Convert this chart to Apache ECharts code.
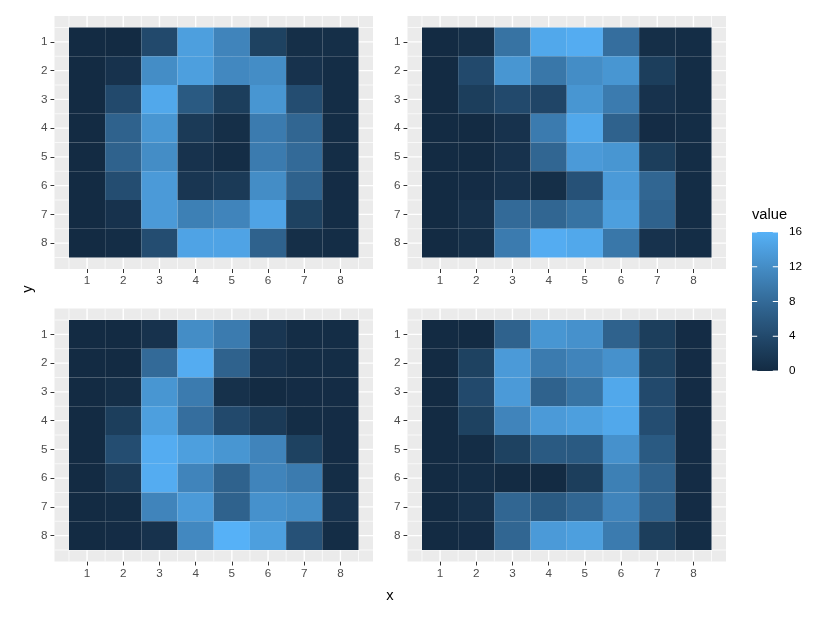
<!DOCTYPE html>
<html>
<head>
<meta charset="utf-8">
<script src="https://cdn.jsdelivr.net/npm/echarts@6/dist/echarts.min.js"></script>
<style>
html, body { margin: 0; padding: 0; background: #fff; }
#chart { width: 830px; height: 622px; }
</style>
</head>
<body>
<div id="chart"></div>
<script>
// tick labels
const xTicks = [1, 2, 3, 4, 5, 6, 7, 8];
const yTicks = [1, 2, 3, 4, 5, 6, 7, 8];
const legendTicks = [0, 4, 8, 12, 16];

// pixel values, one row per y (1 = top)
const digit0 = [
  [0, 0,   4,    14,   11,   3,    0.5, 0.5],
  [0, 1,   12,   14,   11.5, 12,   1,   0.3],
  [0, 4,   15,   6,    2.5,  13,   4.5, 0.3],
  [0, 7,   13,   2,    0.5,  10,   7.5, 0.3],
  [0, 7,   12,   1,    0.3,  10,   8,   0.3],
  [0, 4.5, 13.5, 1.5,  2,    12,   7,   0.2],
  [0, 1,   13.5, 10.5, 11,   14.5, 3,   0.3],
  [0, 0.3, 4.5,  14.5, 14.5, 7,    0.5, 0.3]
];
const digit3 = [
  [0, 0.5, 9,    15,   15.5, 8.5,  0.5, 0.3],
  [0, 4,   13,   9.5,  12,   13,   2.5, 0.3],
  [0, 2.5, 4,    3.5,  13,   10,   1,   0.3],
  [0, 0,   1,    10,   15,   7,    0.2, 0.3],
  [0, 0,   1,    7.5,  13.5, 13,   2.5, 0.3],
  [0, 0.2, 1,    0.5,  5,    13.5, 7.5, 0.3],
  [0, 0.7, 8,    7.5,  9,    14,   7,   0.3],
  [0, 0.5, 10,   15.5, 15,   9.5,  1,   0.3]
];
const digit6 = [
  [0, 0,   1,    12,   10,   1.5,  0.3, 0.3],
  [0, 0,   8,    15.5, 7,    1,    0.3, 0.3],
  [0, 0.5, 13,   10,   0.8,  0,    0.2, 0.2],
  [0, 2.5, 14,   8.5,  4,    2,    0.3, 0.2],
  [0, 4.5, 15.5, 14,   13,   11,   3,   0.2],
  [0, 2,   15.5, 11,   7,    11,   10,  0.3],
  [0, 0.3, 11,   13.5, 7,    12.5, 12,  1],
  [0, 0.2, 1,    11.5, 16,   14,   5,   0.3]
];
const digit9 = [
  [0, 0,   7,    13,   12.5, 7,    2.5, 0.2],
  [0, 3,   13.5, 10,   11,   12.5, 3,   0.2],
  [0, 4,   13.5, 7,    9,    15,   4,   0.2],
  [0, 3,   11,   13.5, 14,   15,   4.5, 0.2],
  [0, 0.3, 3,    6,    6,    12.5, 6,   0.2],
  [0, 0.3, 0,    0,    2.5,  10.5, 7,   0.2],
  [0, 0.7, 7.5,  6,    7.5,  11,   7,   0.2],
  [0, 0.2, 7.5,  13.5, 14,   10,   2.5, 0.3]
];
const panels = [digit0, digit3, digit6, digit9];

// colour scale, interpolated in CIELAB like ggplot
const lowColor = '#132B43';
const highColor = '#56B1F7';
const scaleMin = 0, scaleMax = 16;

function hexToRgb(h) {
  return [1, 3, 5].map(i => parseInt(h.substr(i, 2), 16));
}
function toLab(rgb) {
  const lin = rgb.map(c => {
    c = c / 255;
    return c <= 0.04045 ? c / 12.92 : Math.pow((c + 0.055) / 1.055, 2.4);
  });
  const X = (0.4124564 * lin[0] + 0.3575761 * lin[1] + 0.1804375 * lin[2]) / 0.95047;
  const Y = 0.2126729 * lin[0] + 0.7151522 * lin[1] + 0.0721750 * lin[2];
  const Z = (0.0193339 * lin[0] + 0.1191920 * lin[1] + 0.9503041 * lin[2]) / 1.08883;
  const f = t => t > 0.008856 ? Math.cbrt(t) : 7.787 * t + 16 / 116;
  const fx = f(X), fy = f(Y), fz = f(Z);
  return [116 * fy - 16, 500 * (fx - fy), 200 * (fy - fz)];
}
function fromLab(lab) {
  const fy = (lab[0] + 16) / 116, fx = lab[1] / 500 + fy, fz = fy - lab[2] / 200;
  const finv = t => t * t * t > 0.008856 ? t * t * t : (t - 16 / 116) / 7.787;
  const X = finv(fx) * 0.95047, Y = finv(fy), Z = finv(fz) * 1.08883;
  const lin = [
    3.2404542 * X - 1.5371385 * Y - 0.4985314 * Z,
    -0.9692660 * X + 1.8760108 * Y + 0.0415560 * Z,
    0.0556434 * X - 0.2040259 * Y + 1.0572252 * Z
  ];
  const c = lin.map(v => {
    v = v <= 0.0031308 ? 12.92 * v : 1.055 * Math.pow(v, 1 / 2.4) - 0.055;
    return Math.round(Math.max(0, Math.min(1, v)) * 255);
  });
  return 'rgb(' + c.join(',') + ')';
}
const labLow = toLab(hexToRgb(lowColor));
const labHigh = toLab(hexToRgb(highColor));
function colorFor(v) {
  const t = Math.max(0, Math.min(1, (v - scaleMin) / (scaleMax - scaleMin)));
  return fromLab(labLow.map((l, i) => l + (labHigh[i] - l) * t));
}

const fontFamily = '"Liberation Sans", Arial, Helvetica, sans-serif';

// panel boxes (grey area), axis range 0.1..8.9 = tiles + 0.4 expansion
const lefts = [54.5, 407.5, 54.5, 407.5];
const tops = [16, 16, 308.5, 308.5];
const panelW = 318.5, panelH = 253;
const lo = 0.1, hi = 8.9;

// gridline positions: majors on ticks, minors half way
const gridPos = [];
xTicks.forEach(t => {
  gridPos.push(t - 0.5);
  gridPos.push(t);
});
gridPos.push(xTicks[xTicks.length - 1] + 0.5);

const grids = [], xAxes = [], yAxes = [], series = [];

panels.forEach((digit, i) => {
  grids.push({
    left: lefts[i], top: tops[i], width: panelW, height: panelH,
    show: true, backgroundColor: '#EBEBEB', borderWidth: 0
  });
  xAxes.push({
    gridIndex: i, type: 'value', min: lo, max: hi,
    axisLine: { show: false, onZero: false },
    splitLine: { show: false },
    axisTick: { show: true, customValues: xTicks, length: 4, lineStyle: { color: '#333333', width: 1 } },
    axisLabel: { customValues: xTicks, color: '#4D4D4D', fontSize: 11.7, margin: 6, fontFamily: fontFamily }
  });
  yAxes.push({
    gridIndex: i, type: 'value', min: lo, max: hi, inverse: true,
    axisLine: { show: false, onZero: false },
    splitLine: { show: false },
    axisTick: { show: true, customValues: yTicks, length: 4, lineStyle: { color: '#333333', width: 1 } },
    axisLabel: { customValues: yTicks, color: '#4D4D4D', fontSize: 11.7, margin: 7, fontFamily: fontFamily }
  });

  series.push({
    type: 'custom',
    xAxisIndex: i, yAxisIndex: i,
    silent: true, z: 1,
    data: gridPos.map(v => [v]),
    renderItem: function (params, api) {
      const v = api.value(0);
      const major = Number.isInteger(v);
      const w = major ? 1.4 : 0.7;
      const a = api.coord([v, lo]), b = api.coord([v, hi]);
      const c = api.coord([lo, v]), d = api.coord([hi, v]);
      return {
        type: 'group',
        children: [
          { type: 'line', shape: { x1: a[0], y1: a[1], x2: b[0], y2: b[1] }, style: { stroke: '#fff', lineWidth: w } },
          { type: 'line', shape: { x1: c[0], y1: c[1], x2: d[0], y2: d[1] }, style: { stroke: '#fff', lineWidth: w } }
        ]
      };
    }
  });

  const cells = [];
  digit.forEach((row, r) => {
    row.forEach((val, c) => {
      cells.push([xTicks[c], yTicks[r], val]);
    });
  });
  series.push({
    type: 'custom',
    name: 'value',
    xAxisIndex: i, yAxisIndex: i,
    z: 2,
    data: cells,
    renderItem: function (params, api) {
      const x = api.value(0), y = api.value(1), v = api.value(2);
      const p0 = api.coord([x - 0.5, y - 0.5]);
      const p1 = api.coord([x + 0.5, y + 0.5]);
      return {
        type: 'rect',
        shape: {
          x: Math.min(p0[0], p1[0]), y: Math.min(p0[1], p1[1]),
          width: Math.abs(p1[0] - p0[0]), height: Math.abs(p1[1] - p0[1])
        },
        style: { fill: colorFor(v) }
      };
    }
  });
});

// colour bar legend as its own small grid
grids.push({ left: 752, top: 232, width: 26, height: 139, show: false });
xAxes.push({ gridIndex: 4, type: 'value', min: 0, max: 1, show: false });
yAxes.push({
  gridIndex: 4, type: 'value', min: scaleMin, max: scaleMax, interval: 4, position: 'right',
  axisLine: { show: false }, splitLine: { show: false },
  axisTick: { show: false },
  axisLabel: { customValues: legendTicks, color: '#000', fontSize: 11.7, margin: 11, fontFamily: fontFamily }
});
const stops = [];
for (let k = 0; k <= 20; k++) {
  // offset 0 is top of the bar (high end)
  stops.push({ offset: k / 20, color: colorFor(scaleMax - (scaleMax - scaleMin) * k / 20) });
}
series.push({
  type: 'custom',
  xAxisIndex: 4, yAxisIndex: 4,
  silent: true, z: 2,
  data: [[scaleMin, scaleMax]],
  renderItem: function (params, api) {
    const top = api.coord([1, api.value(1)]);
    const bot = api.coord([0, api.value(0)]);
    const w = top[0] - bot[0];
    const children = [{
      type: 'rect',
      shape: { x: bot[0], y: top[1], width: w, height: bot[1] - top[1] },
      style: { fill: new echarts.graphic.LinearGradient(0, 0, 0, 1, stops) }
    }];
    // white ticks on both edges of the bar, a fifth of its width
    legendTicks.forEach(t => {
      const p = api.coord([0, t]);
      children.push({ type: 'line', shape: { x1: bot[0], y1: p[1], x2: bot[0] + w / 5, y2: p[1] }, style: { stroke: '#fff', lineWidth: 1 } });
      children.push({ type: 'line', shape: { x1: top[0] - w / 5, y1: p[1], x2: top[0], y2: p[1] }, style: { stroke: '#fff', lineWidth: 1 } });
    });
    return { type: 'group', children: children };
  }
});

const chart = echarts.init(document.getElementById('chart'), null, { renderer: 'canvas' });
chart.setOption({
  backgroundColor: '#ffffff',
  animation: false,
  textStyle: { fontFamily: fontFamily },
  grid: grids,
  xAxis: xAxes,
  yAxis: yAxes,
  series: series,
  graphic: [
    { type: 'text', x: 390, y: 596, style: { text: 'x', fontSize: 14.7, fill: '#000', fontFamily: fontFamily, align: 'center', verticalAlign: 'middle' } },
    { type: 'text', x: 28, y: 289, rotation: Math.PI / 2, style: { text: 'y', fontSize: 14.7, fill: '#000', fontFamily: fontFamily, align: 'center', verticalAlign: 'middle' } },
    { type: 'text', x: 752, y: 215, style: { text: 'value', fontSize: 14.7, fill: '#000', fontFamily: fontFamily, verticalAlign: 'middle' } }
  ]
});
</script>
</body>
</html>
